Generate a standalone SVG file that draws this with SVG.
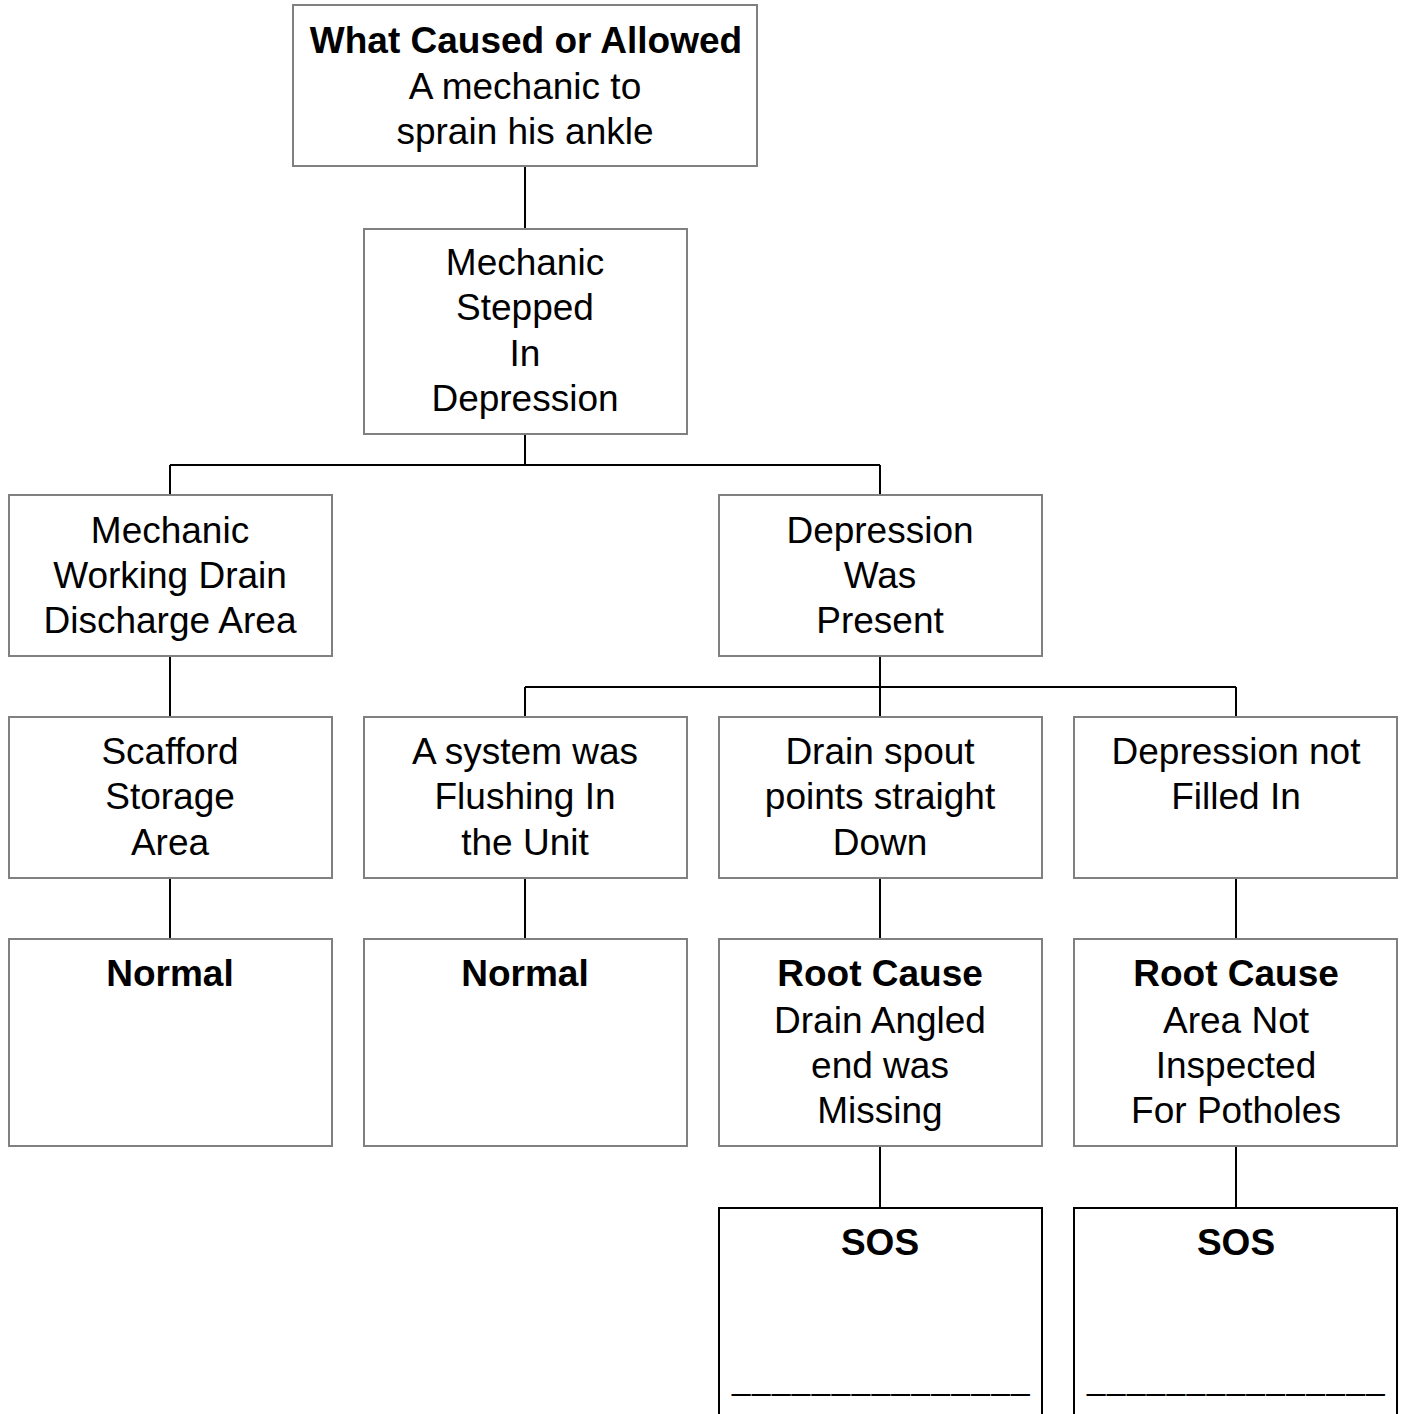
<svg xmlns="http://www.w3.org/2000/svg" width="1403" height="1414" viewBox="0 0 1403 1414">
<style>
.box{fill:#fff;stroke:#808080;stroke-width:2}
.sos{fill:#fff;stroke:#000;stroke-width:2}
text{font-family:"Liberation Sans",Arial,sans-serif;font-size:37px;fill:#000;text-anchor:middle}
.b{font-weight:bold}
.u{font-size:33px;letter-spacing:1.6px;text-anchor:start}
.c{fill:none;stroke:#000;stroke-width:2}
</style>
<rect width="1403" height="1414" fill="#fff"/>
<g id="connectors">
<path class="c" d="M525 166V229M525 434V465M170 465H880M170 465V495M880 465V495M170 656V717M170 878V939M880 656V717M525 687H1236M525 687V717M1236 687V717M525 878V939M880 878V939M1236 878V939M880 1146V1208M1236 1146V1208"/>
</g>
<g id="n1"><rect class="box" x="293" y="5" width="464" height="161"/>
<text class="b" x="526" y="53">What Caused or Allowed</text><text x="525" y="99">A mechanic to</text><text x="525" y="144">sprain his ankle</text></g>
<g id="n2"><rect class="box" x="364" y="229" width="323" height="205"/>
<text x="525" y="275">Mechanic</text><text x="525" y="320">Stepped</text><text x="525" y="366">In</text><text x="525" y="411">Depression</text></g>
<g id="n3"><rect class="box" x="9" y="495" width="323" height="161"/>
<text x="170" y="543">Mechanic</text><text x="170" y="588">Working Drain</text><text x="170" y="633">Discharge Area</text></g>
<g id="n4"><rect class="box" x="719" y="495" width="323" height="161"/>
<text x="880" y="543">Depression</text><text x="880" y="588">Was</text><text x="880" y="633">Present</text></g>
<g id="n5"><rect class="box" x="9" y="717" width="323" height="161"/>
<text x="170" y="764">Scafford</text><text x="170" y="809">Storage</text><text x="170" y="855">Area</text></g>
<g id="n6"><rect class="box" x="364" y="717" width="323" height="161"/>
<text x="525" y="764">A system was</text><text x="525" y="809">Flushing In</text><text x="525" y="855">the Unit</text></g>
<g id="n7"><rect class="box" x="719" y="717" width="323" height="161"/>
<text x="880" y="764">Drain spout</text><text x="880" y="809">points straight</text><text x="880" y="855">Down</text></g>
<g id="n8"><rect class="box" x="1074" y="717" width="323" height="161"/>
<text x="1236" y="764">Depression not</text><text x="1236" y="809">Filled In</text></g>
<g id="n9"><rect class="box" x="9" y="939" width="323" height="207"/>
<text class="b" x="170" y="986">Normal</text></g>
<g id="n10"><rect class="box" x="364" y="939" width="323" height="207"/>
<text class="b" x="525" y="986">Normal</text></g>
<g id="n11"><rect class="box" x="719" y="939" width="323" height="207"/>
<text class="b" x="880" y="986">Root Cause</text><text x="880" y="1033">Drain Angled</text><text x="880" y="1078">end was</text><text x="880" y="1123">Missing</text></g>
<g id="n12"><rect class="box" x="1074" y="939" width="323" height="207"/>
<text class="b" x="1236" y="986">Root Cause</text><text x="1236" y="1033">Area Not</text><text x="1236" y="1078">Inspected</text><text x="1236" y="1123">For Potholes</text></g>
<g id="n13"><rect class="sos" x="719" y="1208" width="323" height="220"/>
<text class="b" x="880" y="1255">SOS</text><text class="u" x="732" y="1389">_______________</text></g>
<g id="n14"><rect class="sos" x="1074" y="1208" width="323" height="220"/>
<text class="b" x="1236" y="1255">SOS</text><text class="u" x="1087" y="1389">_______________</text></g>
</svg>
